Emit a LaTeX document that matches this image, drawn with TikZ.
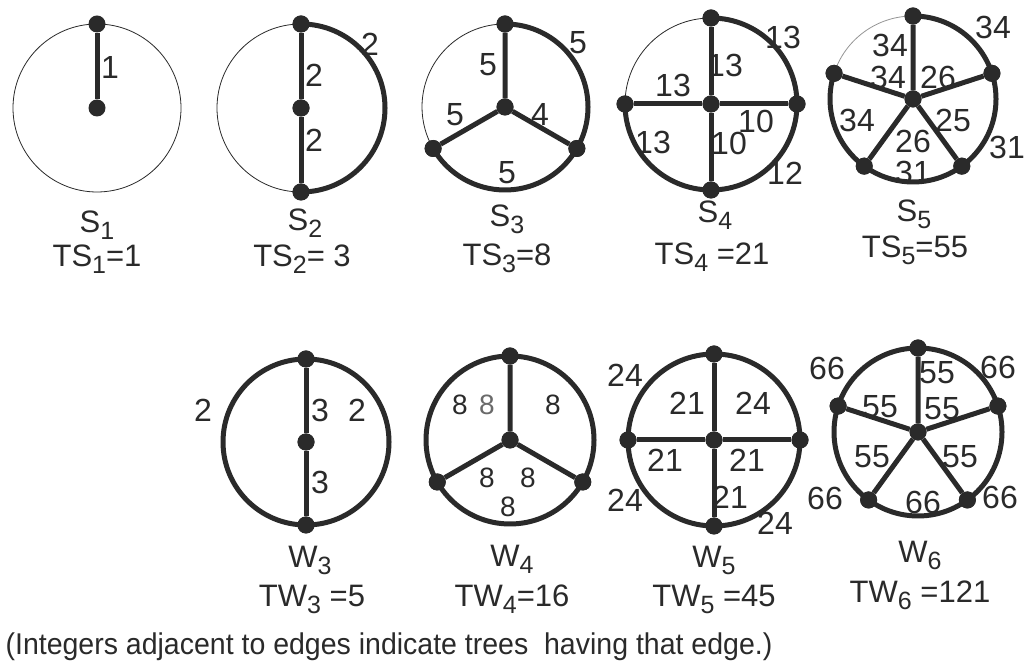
\documentclass[tikz,border=0pt]{standalone}
\usepackage{fontspec}
\setmainfont{Liberation Sans}
\definecolor{ink}{HTML}{2A2A2A}
\newcommand{\lowsub}[1]{\raisebox{-0.22em}{\fontsize{25}{25}\selectfont #1}}
\tikzset{
  vtx/.style={circle, fill=ink, inner sep=0pt, minimum size=17pt},
  thk/.style={draw=ink, line width=5pt},
  thn/.style={draw=ink, line width=0.8pt},
  faint/.style={draw=ink!50, line width=0.8pt},
  lbl/.style={inner sep=0pt, font=\fontsize{32}{32}\selectfont, text=ink},
  sml/.style={inner sep=0pt, font=\fontsize{28}{28}\selectfont, text=ink},
  ttl/.style={inner sep=0pt, anchor=base, font=\fontsize{31}{31}\selectfont, text=ink},
  captext/.style={inner sep=0pt, anchor=base, font=\fontsize{30}{30}\selectfont, text=ink}
}
\begin{document}
\begin{tikzpicture}[x=1pt,y=1pt]
\useasboundingbox (0,0) rectangle (1024,668);
\fill[white] (0,0) rectangle (1024,668);

% ---------- S1 ----------
\begin{scope}[shift={(97,560)}]
  \draw[thn] (0,0) circle[radius=84];
  \node[vtx] (s1o) at (0,0) {};
  \node[vtx] (s1a) at (90:84) {};
  \draw[thk] (s1a) -- (s1o);
\end{scope}

% ---------- S2 ----------
\begin{scope}[shift={(301,560)}]
  \node[vtx] (s2o) at (0,0) {};
  \node[vtx] (s2a) at (90:84) {};
  \node[vtx] (s2b) at (270:84) {};
  \draw[thn] (s2a.center) arc[start angle=90, end angle=270, radius=84];
  \draw[thk] (s2a.center) arc[start angle=90, end angle=-90, radius=84];
  \draw[thk] (s2a) -- (s2o) -- (s2b);
  \foreach \n in {s2o,s2a,s2b} \node[vtx] at (\n) {};
\end{scope}

% ---------- S3 ----------
\begin{scope}[shift={(505,561)}]
  \node[vtx] (s3o) at (0,0) {};
  \node[vtx] (s3a) at (90:83) {};
  \node[vtx] (s3b) at (-30:83) {};
  \node[vtx] (s3c) at (210:83) {};
  \draw[thn] (s3a.center) arc[start angle=90, end angle=210, radius=83];
  \draw[thk] (s3a.center) arc[start angle=90, end angle=-150, radius=83];
  \draw[thk] (s3o) -- (s3a) (s3o) -- (s3b) (s3o) -- (s3c);
  \foreach \n in {s3o,s3a,s3b,s3c} \node[vtx] at (\n) {};
\end{scope}

% ---------- S4 ----------
\begin{scope}[shift={(711,564)}]
  \node[vtx] (s4o) at (0,0) {};
  \node[vtx] (s4a) at (90:86) {};
  \node[vtx] (s4b) at (0:86) {};
  \node[vtx] (s4c) at (270:86) {};
  \node[vtx] (s4d) at (180:86) {};
  \draw[thn] (s4a.center) arc[start angle=90, end angle=180, radius=86];
  \draw[thk] (s4a.center) arc[start angle=90, end angle=-180, radius=86];
  \draw[thk] (s4o) -- (s4a) (s4o) -- (s4b) (s4o) -- (s4c) (s4o) -- (s4d);
  \foreach \n in {s4o,s4a,s4b,s4c,s4d} \node[vtx] at (\n) {};
\end{scope}

% ---------- S5 ----------
\begin{scope}[shift={(913,569)}]
  \node[vtx] (s5o) at (0,0) {};
  \node[vtx] (s5a) at (90:83) {};
  \node[vtx] (s5b) at (18:83) {};
  \node[vtx] (s5c) at (-54:83) {};
  \node[vtx] (s5d) at (-126:83) {};
  \node[vtx] (s5e) at (162:83) {};
  \draw[faint] (s5a.center) arc[start angle=90, end angle=162, radius=83];
  \draw[thk] (s5a.center) arc[start angle=90, end angle=-198, radius=83];
  \draw[thk] (s5o) -- (s5a) (s5o) -- (s5b) (s5o) -- (s5c) (s5o) -- (s5d) (s5o) -- (s5e);
  \foreach \n in {s5o,s5a,s5b,s5c,s5d,s5e} \node[vtx] at (\n) {};
\end{scope}

% ---------- W3 ----------
\begin{scope}[shift={(306,226)}]
  \draw[thk] (0,0) circle[radius=83];
  \node[vtx] (w3o) at (0,0) {};
  \node[vtx] (w3a) at (90:83) {};
  \node[vtx] (w3b) at (270:83) {};
  \draw[thk] (w3a) -- (w3o) -- (w3b);
  \foreach \n in {w3o,w3a,w3b} \node[vtx] at (\n) {};
\end{scope}

% ---------- W4 ----------
\begin{scope}[shift={(510,228)}]
  \draw[thk] (0,0) circle[radius=84];
  \node[vtx] (w4o) at (0,0) {};
  \node[vtx] (w4a) at (90:84) {};
  \node[vtx] (w4b) at (-30:84) {};
  \node[vtx] (w4c) at (210:84) {};
  \draw[thk] (w4o) -- (w4a) (w4o) -- (w4b) (w4o) -- (w4c);
  \foreach \n in {w4o,w4a,w4b,w4c} \node[vtx] at (\n) {};
\end{scope}

% ---------- W5 ----------
\begin{scope}[shift={(714,228)}]
  \draw[thk] (0,0) circle[radius=86];
  \node[vtx] (w5o) at (0,0) {};
  \node[vtx] (w5a) at (90:86) {};
  \node[vtx] (w5b) at (0:86) {};
  \node[vtx] (w5c) at (270:86) {};
  \node[vtx] (w5d) at (180:86) {};
  \draw[thk] (w5o) -- (w5a) (w5o) -- (w5b) (w5o) -- (w5c) (w5o) -- (w5d);
  \foreach \n in {w5o,w5a,w5b,w5c,w5d} \node[vtx] at (\n) {};
\end{scope}

% ---------- W6 ----------
\begin{scope}[shift={(918,236)}]
  \draw[thk] (0,0) circle[radius=84];
  \node[vtx] (w6o) at (0,0) {};
  \node[vtx] (w6a) at (90:84) {};
  \node[vtx] (w6b) at (18:84) {};
  \node[vtx] (w6c) at (-54:84) {};
  \node[vtx] (w6d) at (-126:84) {};
  \node[vtx] (w6e) at (162:84) {};
  \draw[thk] (w6o) -- (w6a) (w6o) -- (w6b) (w6o) -- (w6c) (w6o) -- (w6d) (w6o) -- (w6e);
  \foreach \n in {w6o,w6a,w6b,w6c,w6d,w6e} \node[vtx] at (\n) {};
\end{scope}

% ---------- edge labels, row 1 ----------
\node[lbl] (l1a) at (110,600) {1};
\node[lbl] (l2a) at (370,624) {2};
\node[lbl] (l2b) at (314,593) {2};
\node[lbl] (l2c) at (314,528) {2};
\node[lbl] (l3a) at (578,625) {5};
\node[lbl] (l3b) at (488,603) {5};
\node[lbl] (l3c) at (455,553) {5};
\node[lbl] (l3d) at (540,553) {4};
\node[lbl] (l3e) at (507,495) {5};
\node[lbl] (l4a) at (783,631) {13};
\node[lbl] (l4b) at (725,603) {13};
\node[lbl] (l4c) at (673,583) {13};
\node[lbl] (l4d) at (653,526) {13};
\node[lbl] (l4e) at (729,525) {10};
\node[lbl] (l4f) at (756,547) {10};
\node[lbl] (l4g) at (785,495) {12};
\node[lbl] (l5a) at (993,641) {34};
\node[lbl] (l5b) at (890,623) {34};
\node[lbl] (l5c) at (888,591) {34};
\node[lbl] (l5d) at (938,591) {26};
\node[lbl] (l5e) at (857,548) {34};
\node[lbl] (l5f) at (953,548) {25};
\node[lbl] (l5g) at (913,527) {26};
\node[lbl] (l5h) at (913,496) {31};
\node[lbl] (l5i) at (1007,521) {31};

% ---------- titles, row 1 (baselines) ----------
\node[ttl] (t1) at (97,435) {S\lowsub{1}};
\node[ttl] (u1) at (97,401) {TS\lowsub{1}=1};
\node[ttl] (t2) at (305,437) {S\lowsub{2}};
\node[ttl] (u2) at (302,401) {TS\lowsub{2}= 3};
\node[ttl] (t3) at (507,441) {S\lowsub{3}};
\node[ttl] (u3) at (507,402) {TS\lowsub{3}=8};
\node[ttl] (t4) at (715,445) {S\lowsub{4}};
\node[ttl] (u4) at (712,403) {TS\lowsub{4} =21};
\node[ttl] (t5) at (914,446) {S\lowsub{5}};
\node[ttl] (u5) at (915,410) {TS\lowsub{5}=55};

% ---------- edge labels, row 2 ----------
\node[lbl] (m3a) at (203,258) {2};
\node[lbl] (m3b) at (320,258) {3};
\node[lbl] (m3c) at (357,258) {2};
\node[lbl] (m3d) at (320,186) {3};
\node[sml] (m4a) at (460,263) {8};
\node[sml, text=ink!70] (m4b) at (487,263) {8};
\node[sml] (m4c) at (553,263) {8};
\node[sml] (m4d) at (487,190) {8};
\node[sml] (m4e) at (528,190) {8};
\node[sml] (m4f) at (508,161) {8};
\node[lbl] (m5a) at (625,293) {24};
\node[lbl] (m5b) at (687,265) {21};
\node[lbl] (m5c) at (753,265) {24};
\node[lbl] (m5d) at (665,208) {21};
\node[lbl] (m5e) at (747,208) {21};
\node[lbl] (m5f) at (730,171) {21};
\node[lbl] (m5g) at (625,168) {24};
\node[lbl] (m5h) at (775,145) {24};
\node[lbl] (m6a) at (827,300) {66};
\node[lbl] (m6b) at (937,295) {55};
\node[lbl] (m6c) at (998,301) {66};
\node[lbl] (m6d) at (880,261) {55};
\node[lbl] (m6e) at (942,259) {55};
\node[lbl] (m6f) at (872,211) {55};
\node[lbl] (m6g) at (960,211) {55};
\node[lbl] (m6h) at (825,170) {66};
\node[lbl] (m6i) at (923,166) {66};
\node[lbl] (m6j) at (1000,171) {66};

% ---------- titles, row 2 (baselines) ----------
\node[ttl] (v3) at (310,100) {W\lowsub{3}};
\node[ttl] (x3) at (312,61) {TW\lowsub{3} =5};
\node[ttl] (v4) at (512,101) {W\lowsub{4}};
\node[ttl] (x4) at (512,61) {TW\lowsub{4}=16};
\node[ttl] (v5) at (714,100) {W\lowsub{5}};
\node[ttl] (x5) at (714,61) {TW\lowsub{5} =45};
\node[ttl] (v6) at (920,105) {W\lowsub{6}};
\node[ttl] (x6) at (920,65) {TW\lowsub{6} =121};

% ---------- caption ----------
\node[captext] (capt) at (389,13) {\scalebox{0.95}[1]{(Integers adjacent to edges indicate trees\ \ having that edge.)}};
\end{tikzpicture}
\end{document}
